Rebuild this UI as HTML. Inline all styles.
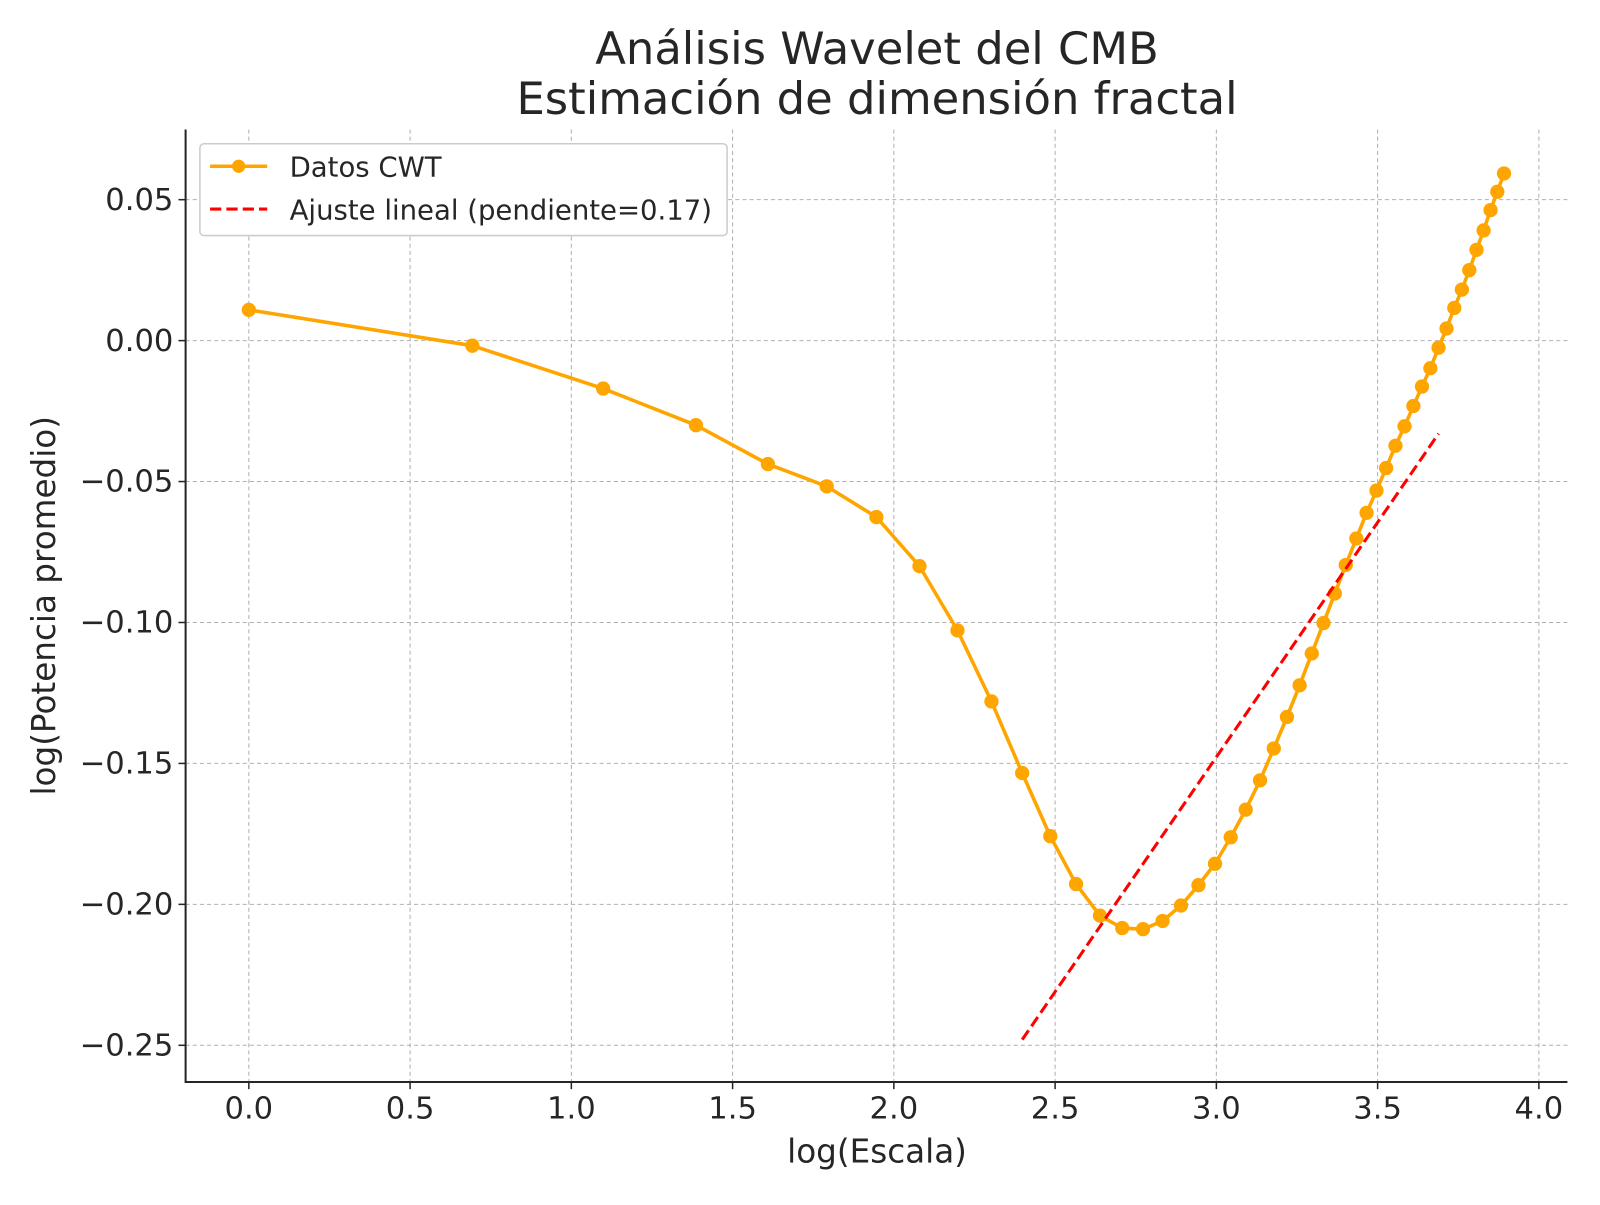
<!DOCTYPE html>
<html><head><meta charset="utf-8"><style>
html,body{margin:0;padding:0;background:#fff}
svg text{font-family:"DejaVu Sans","Liberation Sans",sans-serif;fill:#262626}
</style></head><body>
<svg id="chart" width="1600" height="1200" xmlns="http://www.w3.org/2000/svg">
<rect width="1600" height="1200" fill="#fff"/>
<g transform="scale(1.0198)">
<text x="860" y="63" text-anchor="middle" font-size="44">Análisis Wavelet del CMB</text>
<text x="860" y="112" text-anchor="middle" font-size="44">Estimación de dimensión fractal</text>
<g id="grid"></g><g id="ticks"></g><g id="marks"></g>
<text x="860" y="1140" text-anchor="middle" font-size="32">log(Escala)</text>
<text transform="translate(54,594) rotate(-90)" text-anchor="middle" font-size="32">log(Potencia promedio)</text>
<g>
<rect x="196" y="141" width="517" height="90" rx="4" fill="#fff" stroke="#ccc" stroke-width="1.5"/>
<line x1="206" y1="163" x2="262" y2="163" stroke="#FFA500" stroke-width="3.5"/>
<circle cx="234" cy="163" r="6.5" fill="#FFA500"/>
<text x="284" y="173" font-size="27">Datos CWT</text>
<line x1="206" y1="205" x2="262" y2="205" stroke="#ff0000" stroke-width="3" stroke-dasharray="11,5"/>
<text x="284" y="215" font-size="27">Ajuste lineal (pendiente=0.17)</text>
</g>
</g>
</svg>
<script>
const xs = Array.from({length:49},(_,i)=>Math.log(i+1));
const ys = [0.0109,-0.0018,-0.017,-0.030,-0.0438,-0.0517,-0.0626,-0.080,-0.1028,-0.128,-0.1534,-0.1758,-0.1928,-0.204,-0.2084,-0.2088,-0.2059,-0.2004,-0.1932,-0.1856,-0.1762,-0.1664,-0.156,-0.1447,-0.1335,-0.1223,-0.111,-0.1002,-0.0897,-0.0796,-0.0702,-0.0611,-0.0532,-0.0452,-0.0373,-0.0304,-0.0232,-0.0163,-0.0098,-0.0025,0.0043,0.0116,0.0181,0.025,0.0322,0.0391,0.0463,0.0528,0.0593];
const fitX = [2.398, 3.689];
const fitY = [-0.248, -0.033];
const xTicks = [0,0.5,1,1.5,2,2.5,3,3.5,4];
const xTickLabels = ["0.0","0.5","1.0","1.5","2.0","2.5","3.0","3.5","4.0"];
const yTicks = [0.05,0,-0.05,-0.1,-0.15,-0.2,-0.25];
const yTickLabels = ["0.05","0.00","\u22120.05","\u22120.10","\u22120.15","\u22120.20","\u22120.25"];
const L=182,R=1537,T=127,B=1061;
const sx=v=>244+v*316.25, sy=v=>334-v*2764;
const NS="http://www.w3.org/2000/svg";
function mk(p,tag,a){const e=document.createElementNS(NS,tag);for(const k in a)e.setAttribute(k,a[k]);p.appendChild(e);return e;}
const grid=document.getElementById('grid'),ticks=document.getElementById('ticks'),marks=document.getElementById('marks');
xTicks.forEach((v,i)=>{const x=sx(v);
 const g=mk(grid,'line',{x1:x,x2:x,y1:T,y2:B,stroke:'#b0b0b0','stroke-width':1,'stroke-dasharray':'4,3'});
 
 mk(ticks,'line',{x1:x,x2:x,y1:B,y2:B+7,stroke:'#262626','stroke-width':1.5});
 const t=mk(ticks,'text',{x:x,y:B+36,'text-anchor':'middle','font-size':30});t.textContent=xTickLabels[i];
 });
yTicks.forEach((v,i)=>{const y=sy(v);
 const g=mk(grid,'line',{x1:L,x2:R,y1:y,y2:y,stroke:'#b0b0b0','stroke-width':1,'stroke-dasharray':'4,3'});
 
 mk(ticks,'line',{x1:L-7,x2:L,y1:y,y2:y,stroke:'#262626','stroke-width':1.5});
 const t=mk(ticks,'text',{x:L-12,y:y+10,'text-anchor':'end','font-size':30});t.textContent=yTickLabels[i];
 });
const ax=mk(ticks,'path',{d:`M${L},${T}V${B}H${R}`,fill:'none',stroke:'#262626','stroke-width':2});

const line=mk(marks,'polyline',{points:xs.map((x,i)=>sx(x)+','+sy(ys[i])).join(' '),fill:'none',stroke:'#FFA500','stroke-width':3.5,'stroke-linejoin':'round'});

xs.forEach((x,i)=>{const c=mk(marks,'circle',{cx:sx(x),cy:sy(ys[i]),r:7,fill:'#FFA500'});
 });
const fit=mk(marks,'line',{x1:sx(fitX[0]),y1:sy(fitY[0]),x2:sx(fitX[1]),y2:sy(fitY[1]),stroke:'#ff0000','stroke-width':3,'stroke-dasharray':'11,5'});

</script>
</body></html>
